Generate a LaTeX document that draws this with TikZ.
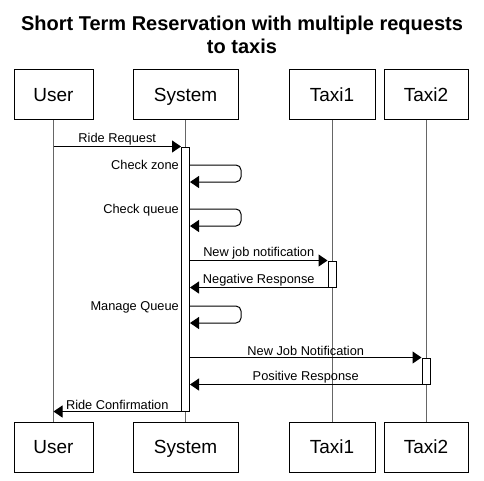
\documentclass[tikz,border=0pt]{standalone}
\usepackage{fontspec}
\setmainfont{Liberation Sans}
\usetikzlibrary{arrows.meta}
\begin{document}
\begin{tikzpicture}[x=1pt,y=-1pt,
  actor/.style={draw=black, line width=1pt, minimum width=#1, minimum height=50pt,
    inner sep=0pt, fill=white, font=\fontsize{19}{22}\selectfont,
    text height=13.6pt, text depth=0pt},
  life/.style={draw=black!60, line width=1pt},
  actbox/.style={draw=black, fill=white, line width=1pt, minimum width=8pt,
    minimum height=#1, inner sep=0pt},
  msg/.style={draw=black, line width=1pt, -{Triangle[length=9pt,width=12pt]}},
  lbl/.style={font=\fontsize{12.8}{14}\selectfont, inner sep=1pt},
  ttl/.style={font=\fontsize{20}{23}\selectfont\bfseries, inner sep=0pt}
]
\useasboundingbox (0,0) rectangle (484,480);

% title
\node[ttl, anchor=base] (title1) at (242,30) {Short Term Reservation with multiple requests};
\node[ttl, anchor=base] (title2) at (242,53) {to taxis};

% actors (top / bottom)
\node[actor=79pt]  (userT) at (53.5,94.5)  {User};
\node[actor=105pt] (sysT)  at (185.5,94.5) {System};
\node[actor=86pt]  (t1T)   at (332,94.5)   {Taxi1};
\node[actor=84pt]  (t2T)   at (426,94.5)   {Taxi2};
\node[actor=79pt]  (userB) at (53.5,447)   {User};
\node[actor=105pt] (sysB)  at (185.5,447)  {System};
\node[actor=86pt]  (t1B)   at (332,447)    {Taxi1};
\node[actor=84pt]  (t2B)   at (426,447)    {Taxi2};

% lifelines
\draw[life] (userT.south) -- (userB.north);
\draw[life] (sysT.south) -- (sysB.north);
\draw[life] (t1T.south) -- (t1B.north);
\draw[life] (t2T.south) -- (t2B.north);

% activations
\node[actbox=264pt] (sysact) at (185.5,279) {};
\node[actbox=26pt]  (t1act)  at (332,274)   {};
\node[actbox=26pt]  (t2act)  at (426,371)   {};

% Ride Request
\draw[msg] (userT.south |- sysact.north) -- node[lbl, above] {Ride Request} (sysact.north west);

% self calls
\coordinate (cz) at (sysact.east |- 0,165);
\draw[msg, rounded corners=5pt] (cz) -- ++(51,0) -- ++(0,17) -- ++(-51,0);
\node[lbl, anchor=base east] (czl) at (180,169) {Check zone};

\coordinate (cq) at (sysact.east |- 0,209);
\draw[msg, rounded corners=5pt] (cq) -- ++(51,0) -- ++(0,17) -- ++(-51,0);
\node[lbl, anchor=base east] (cql) at (180,213) {Check queue};

% Taxi1
\draw[msg] (sysact.east |- t1act.north) -- node[lbl, above] {New job notification} (t1act.north west);
\draw[msg] (t1act.south west) -- node[lbl, above] {Negative Response} (sysact.east |- t1act.south);

% Manage queue
\coordinate (mq) at (sysact.east |- 0,306);
\draw[msg, rounded corners=5pt] (mq) -- ++(51,0) -- ++(0,17) -- ++(-51,0);
\node[lbl, anchor=base east] (mql) at (180,310) {Manage Queue};

% Taxi2
\draw[msg] (sysact.east |- t2act.north) -- node[lbl, above] {New Job Notification} (t2act.north west);
\draw[msg] (t2act.south west) -- node[lbl, above] {Positive Response} (sysact.east |- t2act.south);

% Ride Confirmation
\draw[msg] (sysact.south west) -- node[lbl, above] {Ride Confirmation} (userT.south |- sysact.south);
\end{tikzpicture}
\end{document}
